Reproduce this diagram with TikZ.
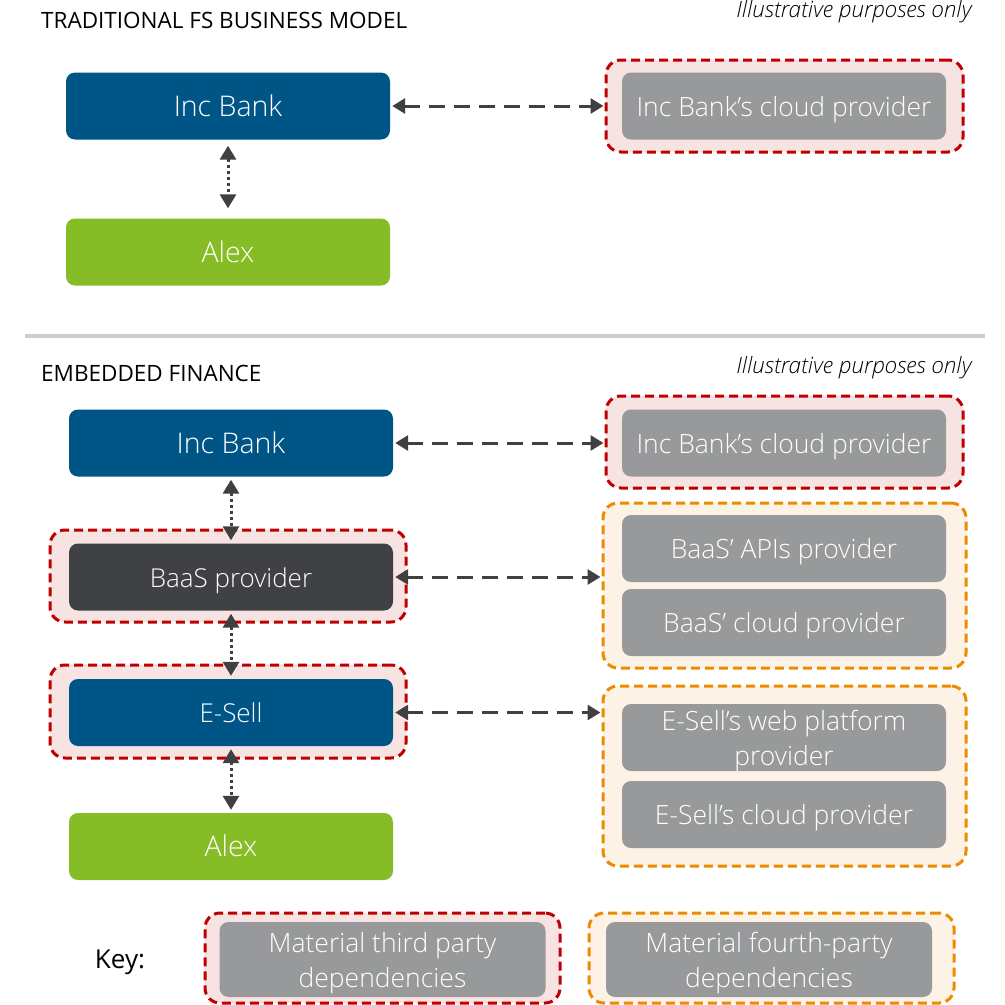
\documentclass[tikz,border=0pt]{standalone}
\usepackage{fontspec}
\IfFontExistsTF{Open Sans Light}
  {\setmainfont{Open Sans Light}[ItalicFont={Open Sans Italic}, BoldFont={Open Sans}]\newfontfamily\headfont{Open Sans}}
  {\setmainfont{Open Sans}\newfontfamily\headfont{Open Sans}}
\IfFontExistsTF{Open Sans Light Italic}
  {\newfontfamily\notefont{Open Sans Light Italic}}
  {\newfontfamily\notefont{Open Sans Italic}}
\usetikzlibrary{arrows.meta}

\definecolor{bankblue}{HTML}{005587}
\definecolor{alexgreen}{HTML}{86BC25}
\definecolor{baasdark}{HTML}{404145}
\definecolor{partygray}{HTML}{97999B}
\definecolor{thirdred}{HTML}{C00000}
\definecolor{thirdfill}{HTML}{F8E3E3}
\definecolor{fourthorange}{HTML}{ED8B00}
\definecolor{fourthfill}{HTML}{FDF2E6}
\definecolor{linkgray}{HTML}{404040}
\definecolor{rulegray}{HTML}{CDCDCD}

\tikzset{
  entity/.style={rounded corners=9pt, minimum width=324pt, minimum height=67pt,
    inner sep=0pt, align=center, text=white, text height=25pt, text depth=5pt,
    font=\fontsize{28.5}{35}\selectfont},
  twolines/.style={text height=60pt},
  bankbox/.style={entity, fill=bankblue},
  alexbox/.style={entity, fill=alexgreen},
  baasbox/.style={entity, fill=baasdark, font=\fontsize{26}{35}\selectfont},
  esellbox/.style={bankbox, font=\fontsize{26}{35}\selectfont},
  partybox/.style={entity, fill=partygray, font=\fontsize{26.5}{35}\selectfont},
  thirdgroup/.style={draw=thirdred, fill=thirdfill, line width=3pt,
    dash pattern=on 9pt off 5pt, rounded corners=15pt, inner sep=0pt},
  fourthgroup/.style={draw=fourthorange, fill=fourthfill, line width=3pt,
    dash pattern=on 9pt off 5pt, rounded corners=15pt, inner sep=0pt},
  link/.style={draw=linkgray, line width=3pt, dash pattern=on 16pt off 9pt,
    {Triangle[length=13pt,width=15pt]}-{Triangle[length=13pt,width=15pt]}},
  tie/.style={draw=linkgray, line width=3pt, dash pattern=on 3pt off 3pt,
    {Triangle[length=14pt,width=16pt]}-{Triangle[length=14pt,width=16pt]}},
  heading/.style={anchor=west, inner sep=0pt, font=\headfont\fontsize{22.5}{26}\selectfont},
  note/.style={anchor=east, inner sep=0pt, font=\notefont\fontsize{22.5}{26}\selectfont}
}

\begin{document}
\begin{tikzpicture}[x=1pt, y=-1pt]
  \useasboundingbox (0,0) rectangle (1005,1005);

  % ---------- traditional model ----------
  \node[heading] (title1) at (41,20) {TRADITIONAL FS BUSINESS MODEL};
  \node[note] (note1) at (972,12) {Illustrative purposes only};

  \node[bankbox] (bank1) at (228,106) {Inc Bank};
  \node[thirdgroup, minimum width=357pt, minimum height=92pt] (cloudgrp1) at (784.5,106) {};
  \node[partybox] (cloud1) at (784,106) {Inc Bank’s cloud provider};
  \node[alexbox] (alex1) at (228,252) {Alex};

  \draw[link, shorten <=2pt, shorten >=1pt] (bank1.east) -- (cloudgrp1.west);
  \draw[tie, shorten <=6pt, shorten >=10pt] (bank1.south) -- (alex1.north);

  % ---------- separator ----------
  \coordinate (sepL) at (25,336);
  \coordinate (sepR) at (985,336);
  \draw[rulegray, line width=4pt] (sepL) -- (sepR);

  % ---------- embedded finance ----------
  \node[heading] (title2) at (41,373) {EMBEDDED FINANCE};
  \node[note] (note2) at (972,368) {Illustrative purposes only};

  \node[bankbox] (bank2) at (231,443) {Inc Bank};
  \node[thirdgroup, minimum width=357pt, minimum height=92pt] (cloudgrp2) at (784.5,442) {};
  \node[partybox] (cloud2) at (784,443) {Inc Bank’s cloud provider};

  \node[thirdgroup, minimum width=356pt, minimum height=92pt] (baasgrp) at (228,576) {};
  \node[baasbox] (baas) at (231,577) {BaaS provider};
  \node[fourthgroup, minimum width=363pt, minimum height=165pt] (baasdeps) at (784.5,585.5) {};
  \node[partybox] (apis) at (784,548.5) {BaaS’ APIs provider};
  \node[partybox] (baascloud) at (784,622.5) {BaaS’ cloud provider};

  \node[thirdgroup, minimum width=356pt, minimum height=93pt] (esellgrp) at (228,711.5) {};
  \node[esellbox] (esell) at (231,712.5) {E-Sell};
  \node[fourthgroup, minimum width=363pt, minimum height=180pt] (eselldeps) at (784.5,776) {};
  \node[partybox, twolines] (web) at (784,737.5) {E-Sell’s web platform\\provider};
  \node[partybox] (esellcloud) at (784,814.5) {E-Sell’s cloud provider};

  \node[alexbox] (alex2) at (231,846.5) {Alex};

  \draw[link, shorten <=2pt, shorten >=1pt] (bank2.east) -- (bank2.east -| cloudgrp2.west);
  \draw[link, shorten <=2pt, shorten >=1pt] (baas.east) -- (baas.east -| baasdeps.west);
  \draw[link, shorten <=2pt, shorten >=1pt] (esell.east) -- (esell.east -| eselldeps.west);
  \draw[tie, shorten <=3pt, shorten >=3pt] (bank2.south) -- (baas.north);
  \draw[tie, shorten <=3pt, shorten >=3pt] (baas.south) -- (esell.north);
  \draw[tie, shorten <=3pt, shorten >=3pt] (esell.south) -- (alex2.north);

  % ---------- key ----------
  \node[font=\headfont\fontsize{26}{30}\selectfont, inner sep=0pt] (keylabel) at (120,962) {Key:};
  \node[thirdgroup, minimum width=355pt, minimum height=90pt] (keythird) at (382.5,958) {};
  \node[partybox, twolines, minimum width=326pt, minimum height=75pt] (keythirdbox) at (382.5,959.5)
    {Material third party\\dependencies};
  \node[fourthgroup, minimum width=365pt, minimum height=90pt] (keyfourth) at (771.5,958) {};
  \node[partybox, twolines, minimum width=326pt, minimum height=75pt] (keyfourthbox) at (769,959.5)
    {Material fourth-party\\dependencies};
\end{tikzpicture}
\end{document}
